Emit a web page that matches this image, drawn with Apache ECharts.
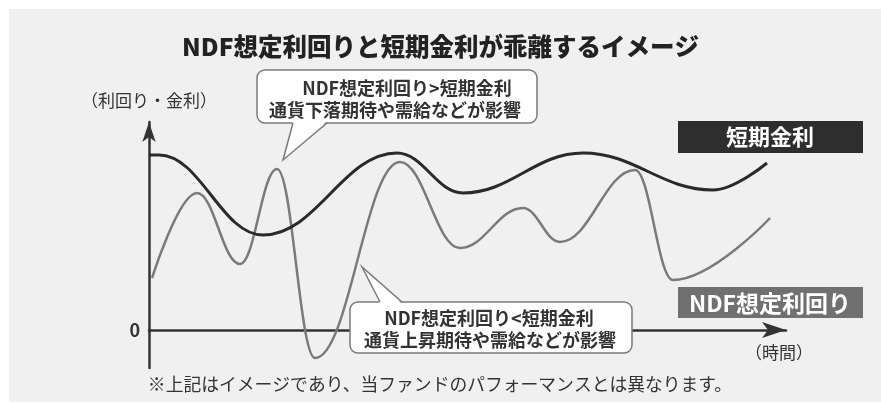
<!DOCTYPE html>
<html lang="ja">
<head>
<meta charset="UTF-8">
<title>NDF想定利回りと短期金利</title>
<script src="https://cdn.jsdelivr.net/npm/echarts@6/dist/echarts.min.js"></script>
<style>
  html, body { margin: 0; padding: 0; background: #fff; }
  #main { width: 881px; height: 405px; }
</style>
</head>
<body>
<div id="main"></div>
<script>
  // 時間軸（任意単位）と利回り・金利（任意単位、0 = 横軸）。山と谷の位置を読み取った値
  const rateT = [0, 1.0, 11.4, 24.8, 31.4, 43.4, 56.4, 61.8];
  const rateV = [17.5, 17.5, 9.5, 17.7, 13.7, 17.7, 14.0, 16.7];

  const ndfT = [0.3, 4.8, 9.1, 12.8, 16.6, 25.1, 31.1, 37.4, 41.1, 48.6, 52.4, 62.1];
  const ndfV = [5.2, 13.7, 6.6, 16.1, -2.8, 16.8, 8.2, 12.2, 8.8, 16.0, 5.0, 11.2];

  const titleText = 'NDF想定利回りと短期金利が乖離するイメージ';
  const rateName = '短期金利';
  const ndfName = 'NDF想定利回り';
  const yName = '（利回り・金利）';
  const xName = '（時間）';
  const upperNote = ['NDF想定利回り>短期金利', '通貨下落期待や需給などが影響'];
  const lowerNote = ['NDF想定利回り<短期金利', '通貨上昇期待や需給などが影響'];
  const footNote = '※上記はイメージであり、当ファンドのパフォーマンスとは異なります。';

  const font = "'Noto Sans CJK JP', sans-serif";
  const pair = (xs, ys) => xs.map((x, i) => [x, ys[i]]);

  let myChart = echarts.init(document.getElementById('main'));

  // 吹き出し（角丸の枠＋しっぽ）
  function bubble(box, tail, lines, centers) {
    let els = [
      { type: 'rect', z: 100, shape: { x: box[0], y: box[1], width: box[2], height: box[3], r: 8 },
        style: { fill: '#fff', stroke: '#7a7a7a', lineWidth: 1.5 } },
      { type: 'polygon', z: 101, shape: { points: tail.fill },
        style: { fill: '#fff' } },
      { type: 'polyline', z: 102, shape: { points: tail.line },
        style: { fill: null, stroke: '#7a7a7a', lineWidth: 1.5 } }
    ];
    lines.forEach((t, i) => {
      els.push({ type: 'text', z: 103, x: centers[i][0], y: centers[i][1],
        style: { text: t, fill: '#333', font: 'bold 18px ' + font, textAlign: 'center', textVerticalAlign: 'middle' } });
    });
    return els;
  }

  let graphics = [
    { type: 'rect', z: -10, shape: { x: 9, y: 9, width: 872, height: 393 }, style: { fill: '#f0f0f0' } },
    // 凡例ボックス
    { type: 'rect', z: 100, shape: { x: 678, y: 121, width: 185, height: 32 }, style: { fill: '#2e2e2e' } },
    { type: 'text', z: 101, x: 770, y: 137, style: { text: rateName, fill: '#fff', font: 'bold 22px ' + font, textAlign: 'center', textVerticalAlign: 'middle' } },
    { type: 'rect', z: 100, shape: { x: 678, y: 287, width: 185, height: 31 }, style: { fill: '#707070' } },
    { type: 'text', z: 101, x: 770, y: 303, style: { text: ndfName, fill: '#fff', font: 'bold 23px ' + font, textAlign: 'center', textVerticalAlign: 'middle' } },
    { type: 'text', z: 101, x: 779, y: 353, style: { text: xName, fill: '#333', font: '17px ' + font, textAlign: 'center', textVerticalAlign: 'middle' } },
    { type: 'text', z: 101, x: 440, y: 384, style: { text: footNote, fill: '#333', font: '17.8px ' + font, textAlign: 'center', textVerticalAlign: 'middle' } }
  ];
  graphics = graphics.concat(
    bubble([257, 70, 280, 53],
      { fill: [[293, 121], [283, 160], [327, 121]], line: [[293, 123], [283, 160], [327, 123]] },
      upperNote, [[407, 88], [395, 110]]),
    bubble([350, 302, 282, 51],
      { fill: [[380, 304], [362, 267], [402, 304]], line: [[380, 302], [362, 267], [402, 302]] },
      lowerNote, [[489, 318], [490, 340]])
  );

  let option = {
    animation: false,
    backgroundColor: '#fff',
    title: {
      text: titleText,
      left: 'center',
      top: 29,
      textStyle: { fontFamily: font, fontSize: 24.5, fontWeight: 900, color: '#222' }
    },
    grid: { left: 149, right: 95, top: 122, bottom: 37, containLabel: false },
    xAxis: {
      type: 'value',
      min: 0,
      max: 63.7,
      axisLine: { onZero: true, symbol: ['none', 'arrow'], symbolSize: [12, 24], lineStyle: { color: '#333', width: 2.5 } },
      axisTick: { show: false },
      axisLabel: { show: false },
      splitLine: { show: false }
    },
    yAxis: {
      type: 'value',
      min: -3.8,
      max: 20.8,
      name: yName,
      nameLocation: 'end',
      nameGap: 13,
      nameTextStyle: { fontFamily: font, fontSize: 17, color: '#333', align: 'center' },
      axisLine: { show: true, symbol: ['none', 'arrow'], symbolSize: [10, 20], lineStyle: { color: '#333', width: 2.5 } },
      axisTick: { show: false },
      axisLabel: { customValues: [0], margin: 9, fontFamily: font, fontSize: 18, fontWeight: 'bold', color: '#333' },
      splitLine: { show: false }
    },
    series: [
      {
        name: ndfName,
        type: 'line',
        data: pair(ndfT, ndfV),
        smooth: 0.4,
        smoothMonotone: 'x',
        symbol: 'none',
        lineStyle: { color: '#7a7a7a', width: 2.5 }
      },
      {
        name: rateName,
        type: 'line',
        data: pair(rateT, rateV),
        smooth: 0.4,
        smoothMonotone: 'x',
        symbol: 'none',
        lineStyle: { color: '#2a2a2a', width: 3 }
      }
    ],
    graphic: graphics
  };

  myChart.setOption(option);
</script>
</body>
</html>
